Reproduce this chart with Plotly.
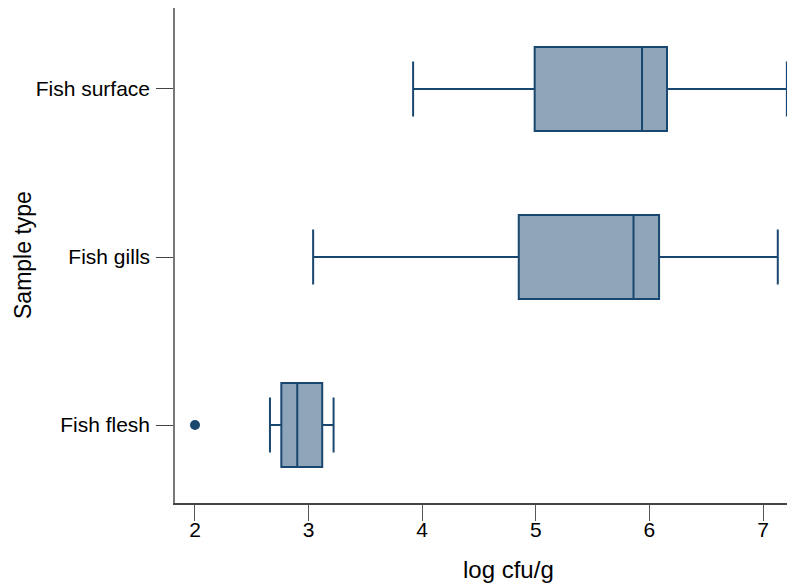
import plotly.graph_objects as go

categories = ["Fish flesh", "Fish gills", "Fish surface"]
positions = [0, 1, 2]
lower_whisker = [2.66, 3.04, 3.92]
q1 = [2.76, 4.85, 4.99]
median = [2.90, 5.86, 5.935]
q3 = [3.12, 6.085, 6.155]
upper_whisker = [3.22, 7.13, 7.21]
outlier_x = [2.0]
outlier_cat = [0]

line_color = "#1a476f"
fill_color = "#8ea5ba"
FONT = "Liberation Sans, Arial, sans-serif"

fig = go.Figure()
fig.add_trace(go.Box(
    y=positions,
    q1=q1, median=median, q3=q3,
    lowerfence=lower_whisker, upperfence=upper_whisker,
    orientation="h",
    width=0.5,
    whiskerwidth=0.655,
    fillcolor=fill_color,
    line=dict(color=line_color, width=2),
    boxpoints=False,
    showlegend=False,
))
fig.add_trace(go.Scatter(
    x=outlier_x, y=outlier_cat, mode="markers",
    marker=dict(color=line_color, size=10, line=dict(width=0)),
    showlegend=False,
))

tick_font = dict(family=FONT, size=21, color="black")
fig.update_layout(
    width=787, height=575,
    margin=dict(l=167, r=2, t=0, b=80),
    paper_bgcolor="white", plot_bgcolor="white",
    font=tick_font,
    xaxis=dict(
        range=[1.824, 7.264], tickvals=[2, 3, 4, 5, 6, 7],
        showgrid=False, zeroline=False,
        showline=True, linecolor="#444444", linewidth=1.5,
        ticks="outside", ticklen=16, tickwidth=1, tickcolor="#555555",
        tickfont=tick_font, ticklabelstandoff=-9,
        automargin=False,
    ),
    yaxis=dict(
        range=[-0.464, 2.482], tickvals=positions, ticktext=categories,
        showgrid=False, zeroline=False,
        showline=True, linecolor="#777777", linewidth=1.5,
        ticks="outside", ticklen=17, tickwidth=1, tickcolor="#444444",
        tickfont=tick_font, ticklabelstandoff=2,
        automargin=False,
    ),
    annotations=[
        dict(text="log cfu/g", xref="paper", yref="paper", x=(500 - 167) / 618, y=-0.135,
             xanchor="center", yanchor="middle", showarrow=False,
             font=dict(family=FONT, size=24, color="black")),
        dict(text="Sample type", xref="paper", yref="paper", x=-0.246, y=0.501,
             xanchor="center", yanchor="middle", showarrow=False, textangle=-90,
             font=dict(family=FONT, size=23, color="black")),
    ],
)
fig.write_html("out.html")
